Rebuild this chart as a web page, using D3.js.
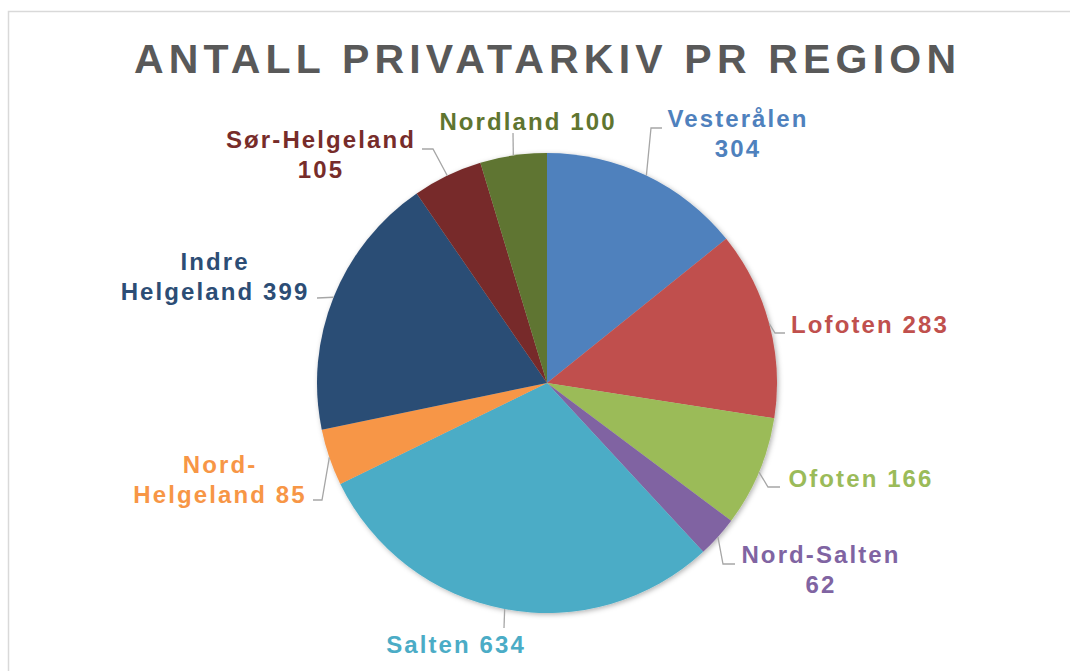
<!DOCTYPE html>
<html>
<head>
<meta charset="utf-8">
<script src="https://cdn.jsdelivr.net/npm/d3@7"></script>
<style>
  body { margin: 0; background: #fff; }
  text { font-family: "Liberation Sans", Arial, sans-serif; font-weight: bold; }
</style>
</head>
<body>
<script>
// data
var regions = ["Vesterålen", "Lofoten", "Ofoten", "Nord-Salten", "Salten",
               "Nord-Helgeland", "Indre Helgeland", "Sør-Helgeland", "Nordland"];
var counts = [304, 283, 166, 62, 634, 85, 399, 105, 100];
var labelLines = [["Vesterålen", "304"], ["Lofoten 283"], ["Ofoten 166"], ["Nord-Salten", "62"],
                  ["Salten 634"], ["Nord-", "Helgeland 85"], ["Indre", "Helgeland 399"],
                  ["Sør-Helgeland", "105"], ["Nordland 100"]];

var colors = ["#4F81BD", "#C0504D", "#9BBB59", "#8064A2", "#4BACC6",
              "#F79646", "#2C4D75", "#772C2A", "#5F7530"];

// label layout: text centre x, first baseline, leader bend + end points
var labelLayout = [
    {x: 737, y: 127, bend: [651, 128], end: [662, 128]},
    {x: 869, y: 333, bend: [775, 333], end: [785, 333]},
    {x: 860, y: 487, bend: [768, 487], end: [780, 487]},
    {x: 820, y: 563, bend: [723, 564], end: [735, 564]},
    {x: 455, y: 653, bend: [504, 628], end: [504, 628]},
    {x: 219, y: 473, bend: [322, 500], end: [313, 500]},
    {x: 214, y: 270, bend: [317, 298], end: [317, 298]},
    {x: 320, y: 148, bend: [433, 149], end: [422, 149]},
    {x: 527, y: 130, bend: [513, 133], end: [513, 133]}
];

var width = 1070, height = 671;
var cx = 547, cy = 383, radius = 230;

var svg = d3.select("body").append("svg")
    .attr("width", width)
    .attr("height", height);

// chart area border
svg.append("path")
    .attr("d", "M8.5," + height + "V11.5H" + width)
    .attr("fill", "none")
    .attr("stroke", "#d9d9d9")
    .attr("stroke-width", 1.5);

svg.append("text")
    .attr("x", 545)
    .attr("y", 73)
    .attr("text-anchor", "middle")
    .attr("fill", "#595959")
    .attr("font-size", 41)
    .attr("textLength", 822)
    .attr("lengthAdjust", "spacing")
    .text("ANTALL PRIVATARKIV PR REGION");

var defs = svg.append("defs");
var shadow = defs.append("filter").attr("id", "shadow")
    .attr("x", "-10%").attr("y", "-10%").attr("width", "120%").attr("height", "120%");
shadow.append("feDropShadow")
    .attr("dx", 1.5).attr("dy", 1.5)
    .attr("stdDeviation", 2.5)
    .attr("flood-color", "#000")
    .attr("flood-opacity", 0.3);

var pie = d3.pie().sort(null).value(function(d) { return d; });
var arcs = pie(counts);

var arc = d3.arc().innerRadius(0).outerRadius(radius);
var edgeArc = d3.arc().innerRadius(radius).outerRadius(radius);

var g = svg.append("g")
    .attr("transform", "translate(" + cx + "," + cy + ")");

g.append("g")
    .attr("filter", "url(#shadow)")
    .selectAll("path")
    .data(arcs)
    .enter()
    .append("path")
        .attr("d", arc)
        .attr("fill", function(d, i) { return colors[i]; });

// leader lines
var leaderGroup = svg.append("g");
arcs.forEach(function(d, i) {
    var p = edgeArc.centroid(d);
    var lay = labelLayout[i];
    var pts = [[cx + p[0], cy + p[1]], lay.bend, lay.end];
    leaderGroup.append("path")
        .attr("d", d3.line()(pts))
        .attr("fill", "none")
        .attr("stroke", "#a6a6a6")
        .attr("stroke-width", 1.3);
});

// labels
var labelGroup = svg.append("g");
labelLines.forEach(function(lines, i) {
    var lay = labelLayout[i];
    var t = labelGroup.append("text")
        .attr("text-anchor", "middle")
        .attr("fill", colors[i])
        .attr("font-size", 24)
        .attr("letter-spacing", 2.1);
    lines.forEach(function(line, j) {
        t.append("tspan")
            .attr("x", lay.x + 1)
            .attr("y", lay.y + j * 30)
            .text(line);
    });
});
</script>
</body>
</html>
